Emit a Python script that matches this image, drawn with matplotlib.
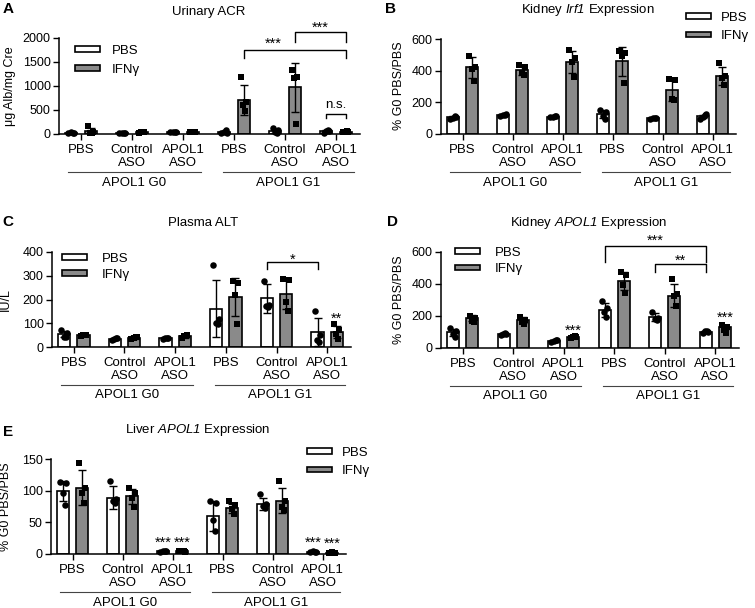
import matplotlib
matplotlib.use('Agg')
import matplotlib.pyplot as plt
from matplotlib.patches import Patch
import matplotlib.transforms as mtransforms
import numpy as np

plt.rcParams['font.family'] = ['Liberation Sans', 'DejaVu Sans']
plt.rcParams['mathtext.fontset'] = 'custom'
plt.rcParams['mathtext.sf'] = 'Liberation Sans:italic'
plt.rcParams['mathtext.rm'] = 'Liberation Sans'
plt.rcParams['mathtext.it'] = 'Liberation Sans:italic'

W, H = 755, 608
fig = plt.figure(figsize=(W / 100, H / 100), dpi=100)

# ---------------- data ----------------
groups = ['PBS', 'Control\nASO', 'APOL1\nASO', 'PBS', 'Control\nASO', 'APOL1\nASO']
genotypes = ['APOL1 G0', 'APOL1 G1']
treatments = ['PBS', 'IFNγ']

# A: Urinary ACR (ug Alb/mg Cre)
acr_pbs_mean = [28, 22, 40, 44, 72, 56]
acr_pbs_sd = [10, 8, 5, 26, 41, 20]
acr_ifn_mean = [62, 40, 42, 710, 970, 46]
acr_ifn_sd = [65, 9, 6, 310, 510, 8]
acr_pbs_pts = [[15, 30, 38, 28], [15, 25, 30, 20], [35, 45, 40, 38],
               [20, 30, 45, 80], [125, 83, 50, 30], [30, 55, 60, 80]]
acr_ifn_pts = [[160, 50, 25, 15], [30, 40, 50, 45], [35, 45, 40, 48],
               [1180, 660, 604, 480], [1333, 1180, 1160, 215], [35, 45, 50, 55]]

# B: Kidney Irf1 expression (% G0 PBS/PBS)
irf_pbs_mean = [105, 120, 110, 125, 98, 112]
irf_pbs_sd = [8, 5, 3, 25, 5, 10]
irf_ifn_mean = [420, 402, 456, 458, 280, 366]
irf_ifn_sd = [65, 30, 70, 92, 70, 58]
irf_pbs_pts = [[95, 110, 100, 115], [115, 125, 118, 122], [108, 112, 110, 111],
               [152, 141, 116, 93], [92, 103, 98, 99], [95, 124, 110, 118]]
irf_ifn_pts = [[495, 421, 408, 335], [436, 425, 383, 373], [530, 478, 453, 362],
               [524, 514, 493, 320], [345, 341, 223, 215], [446, 368, 352, 307]]

# C: Plasma ALT (IU/L)
alt_pbs_mean = [54, 35, 37, 162, 205, 63]
alt_pbs_sd = [13, 4, 4, 120, 60, 60]
alt_ifn_mean = [50, 40, 45, 210, 224, 63]
alt_ifn_sd = [3, 5, 7, 80, 62, 27]
alt_pbs_pts = [[72, 58, 44, 41], [30, 38, 35, 37], [33, 40, 36, 38],
               [346, 118, 100, 96], [276, 177, 173, 170], [153, 51, 30, 20]]
alt_ifn_pts = [[48, 52, 50, 51], [35, 42, 40, 44], [38, 52, 45, 47],
               [276, 269, 220, 97], [286, 283, 191, 153], [96, 72, 54, 32]]

# D: Kidney APOL1 expression (% G0 PBS/PBS)
kap_pbs_mean = [97, 86, 45, 238, 195, 100]
kap_pbs_sd = [22, 8, 6, 44, 24, 7]
kap_ifn_mean = [188, 175, 68, 420, 328, 130]
kap_ifn_sd = [17, 18, 7, 58, 72, 14]
kap_pbs_pts = [[123, 109, 86, 71], [80, 90, 86, 92], [40, 48, 44, 50],
               [295, 253, 228, 192], [228, 190, 180, 176], [92, 100, 104, 108]]
kap_ifn_pts = [[201, 186, 171, 165], [192, 176, 160, 150], [62, 70, 68, 74],
               [472, 458, 395, 343], [431, 337, 322, 263], [142, 130, 113, 95]]

# E: Liver APOL1 expression (% G0 PBS/PBS)
lap_pbs_mean = [100, 89, 4, 60, 79, 3]
lap_pbs_sd = [16, 18, 1, 23, 10, 0.5]
lap_ifn_mean = [105, 91, 4, 72, 84, 2]
lap_ifn_sd = [27, 12, 1, 7, 20, 0.5]
lap_pbs_pts = [[114, 112, 97, 78], [115, 87, 83, 80], [3, 4, 5, 4],
               [83, 80, 53, 36], [95, 79, 76, 73], [3, 3, 4, 3]]
lap_ifn_pts = [[143, 104, 96, 80], [104, 96, 88, 75], [4, 3, 5, 4],
               [83, 78, 71, 63], [115, 83, 75, 70], [2, 2, 3, 2]]

# ---------------- style ----------------
GRAY = '#8a8a8a'
FS = 9.5
FPX = FS * 100 / 72
OFF = 0.19
BW = 0.24
JIT = np.array([-0.055, 0.05, -0.01, 0.03])


def px_rect(l, t, r, b):
    return [l / W, 1 - b / H, (r - l) / W, (b - t) / H]


def panel(rect, pm, ps, im, isd, ppts, ipts, ymax, ystep):
    ax = fig.add_axes(px_rect(*rect))
    x = np.arange(6)
    ax.bar(x - OFF, pm, BW, color='white', edgecolor='black', lw=1.2, zorder=2)
    ax.bar(x + OFF, im, BW, color=GRAY, edgecolor='black', lw=1.2, zorder=2)
    ax.errorbar(x - OFF, pm, yerr=ps, fmt='none', ecolor='black', elinewidth=1.0,
                capsize=3.2, capthick=1.0, zorder=3)
    ax.errorbar(x + OFF, im, yerr=isd, fmt='none', ecolor='black', elinewidth=1.0,
                capsize=3.2, capthick=1.0, zorder=3)
    for i in range(6):
        ax.scatter(x[i] - OFF + JIT, ppts[i], marker='o', s=22, color='black',
                   zorder=4, clip_on=False, linewidths=0)
        ax.scatter(x[i] + OFF + JIT, ipts[i], marker='s', s=20, color='black',
                   zorder=4, clip_on=False, linewidths=0)
    ax.set_xlim(-0.43, 5.47)
    ax.set_ylim(0, ymax)
    ax.set_yticks(np.arange(0, ymax + 1, ystep))
    ax.set_xticks(x)
    ax.set_xticklabels(groups, fontsize=FS, linespacing=1.1)
    ax.tick_params(axis='y', labelsize=FS - 0.5, length=4, width=1, pad=2)
    ax.tick_params(axis='x', length=4, width=1, pad=3)
    for s in ['top', 'right']:
        ax.spines[s].set_visible(False)
    for s in ['left', 'bottom']:
        ax.spines[s].set_linewidth(1.1)
    # genotype lines and labels
    hpx = rect[3] - rect[1]
    tr = mtransforms.blended_transform_factory(ax.transData, ax.transAxes)
    for (a, b), lab in zip([(-0.26, 2.35), (2.78, 5.35)], genotypes):
        ax.plot([a, b], [-38 / hpx, -38 / hpx], color='#444444', lw=0.8,
                transform=tr, clip_on=False)
        ax.text((a + b) / 2, -48.5 / hpx, lab, transform=tr, ha='center', va='center',
                fontsize=FS)
    return ax


def legend(ax, left, top, pitch, gap):
    handles = [Patch(facecolor='white', edgecolor='black', lw=1.2),
               Patch(facecolor=GRAY, edgecolor='black', lw=1.2)]
    ax.legend(handles, treatments, loc='upper left',
              bbox_to_anchor=(left / W, 1 - top / H), bbox_transform=fig.transFigure,
              frameon=False, fontsize=FS, handlelength=25 / FPX, handleheight=3.5 / FPX,
              handletextpad=gap / FPX, labelspacing=(pitch - 12.5) / FPX,
              borderpad=0, borderaxespad=0)


def bracket(ax, x1, x2, y, ydrop1, ydrop2=None):
    if ydrop2 is None:
        ydrop2 = ydrop1
    ax.plot([x1, x1, x2, x2], [ydrop1, y, y, ydrop2], color='black', lw=1.0,
            clip_on=False, zorder=5)


def star(ax, x, y, s, fs=10.5):
    ax.text(x, y, s, ha='center', va='center', fontsize=fs, clip_on=False)


# ---- A ----
axA = panel((59, 38, 360, 134), acr_pbs_mean, acr_pbs_sd, acr_ifn_mean, acr_ifn_sd,
            acr_pbs_pts, acr_ifn_pts, 2000, 500)
legend(axA, 75, 45, 19.3, 12)
bracket(axA, 3 + OFF, 5 + OFF, 1750, 1577)
star(axA, 3.77, 1880, '***')
bracket(axA, 4 + OFF, 5 + OFF, 2118, 1910)
star(axA, 4.7, 2220, '***')
bracket(axA, 5 - OFF, 5 + OFF, 410, 327)
star(axA, 5.0, 604, 'n.s.', fs=FS)

# ---- B ----
axB = panel((441, 39, 736, 134), irf_pbs_mean, irf_pbs_sd, irf_ifn_mean, irf_ifn_sd,
            irf_pbs_pts, irf_ifn_pts, 600, 200)
legend(axB, 686, 12, 19, 10)

# ---- C ----
axC = panel((52, 252, 351, 347), alt_pbs_mean, alt_pbs_sd, alt_ifn_mean, alt_ifn_sd,
            alt_pbs_pts, alt_ifn_pts, 400, 100)
legend(axC, 62, 253, 16.5, 15)
bracket(axC, 4 - OFF, 5 - OFF, 356, 328)
star(axC, 4.31, 366, '*')
star(axC, 5 + OFF, 120, '**')

# ---- D ----
axD = panel((441, 252, 739, 348), kap_pbs_mean, kap_pbs_sd, kap_ifn_mean, kap_ifn_sd,
            kap_pbs_pts, kap_ifn_pts, 600, 200)
legend(axD, 455, 247, 16.7, 15)
bracket(axD, 3 - OFF, 5 - OFF, 640, 539)
star(axD, 3.81, 668, '***')
bracket(axD, 4 - OFF, 5 - OFF, 524, 478)
star(axD, 4.31, 545, '**')
star(axD, 2 + OFF, 105, '***')
star(axD, 5 + OFF, 190, '***')

# ---- E ----
axE = panel((51, 459, 346, 554), lap_pbs_mean, lap_pbs_sd, lap_ifn_mean, lap_ifn_sd,
            lap_pbs_pts, lap_ifn_pts, 150, 50)
legend(axE, 307, 447, 18.6, 10)
star(axE, 2 - OFF, 18, '***')
star(axE, 2 + OFF, 18, '***')
star(axE, 5 - OFF, 17, '***')
star(axE, 5 + OFF, 16, '***')


# ---- titles, y labels, panel letters ----
def ftext(x, y, s, **kw):
    fig.text(x / W, 1 - y / H, s, ha='center', va='center', **kw)


ftext(209, 12, 'Urinary ACR', fontsize=FS)
ftext(588, 10, 'Kidney $\\mathsf{Irf1}$ Expression', fontsize=FS)
ftext(203, 223, 'Plasma ALT', fontsize=FS)
ftext(589, 223, 'Kidney $\\mathsf{APOL1}$ Expression', fontsize=FS)
ftext(198, 430, 'Liver $\\mathsf{APOL1}$ Expression', fontsize=FS)

ftext(10, 86, 'μg Alb/mg Cre', fontsize=FS - 0.5, rotation=90)
ftext(399, 86, '% G0 PBS/PBS', fontsize=FS - 0.5, rotation=90)
ftext(6, 300, 'IU/L', fontsize=FS - 0.5, rotation=90)
ftext(399, 300, '% G0 PBS/PBS', fontsize=FS - 0.5, rotation=90)
ftext(6, 507, '% G0 PBS/PBS', fontsize=FS - 0.5, rotation=90)

for lab, xx, yy in [('A', 8, 9), ('B', 391, 9), ('C', 8, 222), ('D', 392, 222), ('E', 8, 432)]:
    ftext(xx, yy, lab, fontsize=11, fontweight='bold')

fig.savefig('out.png', dpi=100)
